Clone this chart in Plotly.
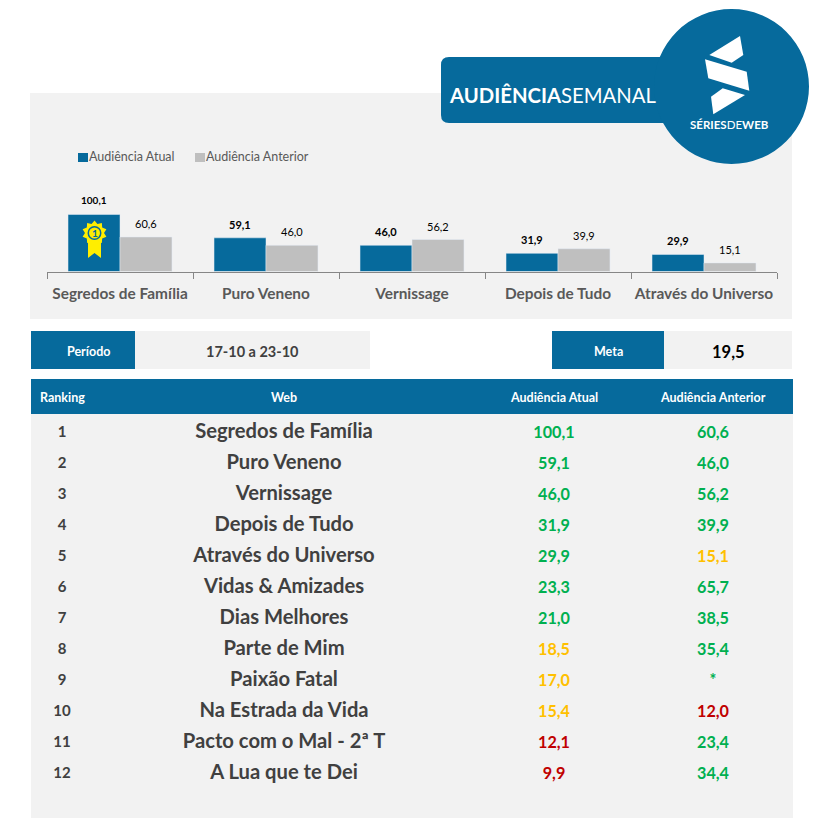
import math
import plotly.graph_objects as go

# a pagina tem 8px de margem no body, entao a figura fica menor e tudo desconta esse deslocamento
PAGE_MARGIN = 8
W, H = 824 - PAGE_MARGIN, 819 - PAGE_MARGIN
BLUE = '#066a9c'
GREY = '#bfbfbf'
PANEL = '#f2f2f2'
DARK = '#404040'
GREEN = '#00b050'
AMBER = '#ffc000'
RED = '#c00000'
FONT = 'Lato'

# grafico
top_names = ['Segredos de Família', 'Puro Veneno', 'Vernissage', 'Depois de Tudo', 'Através do Universo']
top_atual = [100.1, 59.1, 46.0, 31.9, 29.9]
top_anterior = [60.6, 46.0, 56.2, 39.9, 15.1]

# tabela
ranking = [1, 2, 3, 4, 5, 6, 7, 8, 9, 10, 11, 12]
webs = ['Segredos de Família', 'Puro Veneno', 'Vernissage', 'Depois de Tudo', 'Através do Universo',
        'Vidas & Amizades', 'Dias Melhores', 'Parte de Mim', 'Paixão Fatal', 'Na Estrada da Vida',
        'Pacto com o Mal - 2ª T', 'A Lua que te Dei']
atual = ['100,1', '59,1', '46,0', '31,9', '29,9', '23,3', '21,0', '18,5', '17,0', '15,4', '12,1', '9,9']
anterior = ['60,6', '46,0', '56,2', '39,9', '15,1', '65,7', '38,5', '35,4', '*', '12,0', '23,4', '34,4']
atual_cor = [GREEN] * 7 + [AMBER] * 3 + [RED] * 2
anterior_cor = [GREEN, GREEN, GREEN, GREEN, AMBER, GREEN, GREEN, GREEN, GREEN, RED, GREEN, GREEN]
col_x = [62, 284, 554, 713]


def px(x):
    return (x - PAGE_MARGIN) / W


def py(y):
    return 1 - (y - PAGE_MARGIN) / H


def rect(x0, y0, x1, y1, color):
    return dict(type='rect', xref='paper', yref='paper', x0=px(x0), x1=px(x1), y0=py(y0), y1=py(y1),
                fillcolor=color, line_width=0, layer='below')


def poly(points, color, layer='above'):
    path = 'M' + 'L'.join(f'{px(x):.5f},{py(y):.5f}' for x, y in points) + 'Z'
    return dict(type='path', xref='paper', yref='paper', path=path, fillcolor=color, line_width=0, layer=layer)


def txt(x, y, text, size, color=DARK, anchor='center'):
    return dict(xref='paper', yref='paper', x=px(x), y=py(y), text=text, showarrow=False, xanchor=anchor,
                yanchor='middle', font=dict(family=FONT, size=size, color=color))


def br(v):
    return f'{v:.1f}'.replace('.', ',')


fig = go.Figure()
fig.add_trace(go.Bar(name='Audiência Atual', x=top_names, y=top_atual, marker_color=BLUE))
fig.add_trace(go.Bar(name='Audiência Anterior', x=top_names, y=top_anterior, marker_color=GREY))

# linhas da tabela
columns = [
    (col_x[0], ranking, [DARK] * 12, 15, 0.03),
    (col_x[1], webs, [DARK] * 12, 20.2, 0),
    (col_x[2], atual, atual_cor, 16.2, 0.03),
    (col_x[3], anterior, anterior_cor, 16.2, 0.03),
]
for x_pos, labels, colors, size, nudge in columns:
    fig.add_trace(go.Scatter(
        x=[x_pos] * 12, y=[r + nudge for r in ranking], text=[f'<b>{v}</b>' for v in labels], mode='text',
        textposition='middle center', textfont=dict(family=FONT, size=size, color=colors),
        xaxis='x2', yaxis='y2', hoverinfo='skip', cliponaxis=False,
    ))

shapes = [
    rect(30, 93, 792, 319, PANEL),
    rect(31, 331, 135, 369, BLUE),
    rect(135, 331, 370, 369, PANEL),
    rect(552, 331, 664, 369, BLUE),
    rect(664, 331, 792, 369, PANEL),
    rect(31, 379, 793, 414, BLUE),
    rect(31, 414, 793, 818, PANEL),
    # legenda
    rect(78, 153, 88, 162, BLUE),
    rect(195, 153, 205, 162, GREY),
    # selo do titulo
    dict(type='path', xref='paper', yref='paper', line_width=0, fillcolor=BLUE, layer='above',
         path=f'M{px(449)},{py(57)}L{px(700)},{py(57)}L{px(700)},{py(123)}L{px(449)},{py(123)}'
              f'Q{px(441)},{py(123)} {px(441)},{py(115)}L{px(441)},{py(65)}Q{px(441)},{py(57)} {px(449)},{py(57)}Z'),
    dict(type='circle', xref='paper', yref='paper', x0=px(654), x1=px(809), y0=py(164), y1=py(9),
         fillcolor=BLUE, line_width=0, layer='above'),
    poly([(740, 36), (743.3, 55), (731.7, 62.7), (709.3, 55)], 'white'),
    poly([(705, 59.3), (746.7, 71.7), (749.3, 90.7), (708.3, 78.3)], 'white'),
    poly([(722.7, 88.3), (745, 95), (713.3, 114.3), (711, 96.7)], 'white'),
    # medalha
    poly([(88, 240), (101, 240), (101, 258), (94.5, 253), (88, 258)], '#ffee00'),
    poly([(94.5 + (12.5 if k % 2 == 0 else 9.5) * math.sin(k * math.pi / 10),
           233 - (12.5 if k % 2 == 0 else 9.5) * math.cos(k * math.pi / 10)) for k in range(20)], '#ffee00'),
    dict(type='circle', xref='paper', yref='paper', x0=px(87.5), x1=px(101.5), y0=py(240), y1=py(226),
         fillcolor=BLUE, line_width=0, layer='above'),
    dict(type='circle', xref='paper', yref='paper', x0=px(89), x1=px(100), y0=py(238.5), y1=py(227.5),
         fillcolor='#ffee00', line_width=0, layer='above'),
]

annotations = [
    txt(447, 95, '<b>AUDIÊNCIA</b>SEMANAL', 20.3, 'white', 'left'),
    txt(729.5, 125, '<b>SÉRIES</b>DE<b>WEB</b>', 11.5, 'white'),
    txt(94.5, 233, '<b>1</b>', 10, BLUE),
    txt(87, 157, 'Audiência Atual', 12.5, '#595959', 'left'),
    txt(204, 157, 'Audiência Anterior', 12.5, '#595959', 'left'),
    txt(88, 351, '<b>Período</b>', 12.5, 'white'),
    txt(252, 351, '<b>17-10 a 23-10</b>', 14.5),
    txt(608, 351, '<b>Meta</b>', 12.5, 'white'),
    txt(728, 352, '<b>19,5</b>', 16.5, 'black'),
    txt(col_x[0], 397, '<b>Ranking</b>', 12.5, 'white'),
    txt(col_x[1], 397, '<b>Web</b>', 12.5, 'white'),
    txt(col_x[2], 397, '<b>Audiência Atual</b>', 12.5, 'white'),
    txt(col_x[3], 397, '<b>Audiência Anterior</b>', 12.5, 'white'),
]

for i in range(len(top_names)):
    annotations.append(dict(xref='x', yref='y', x=i - 0.178, y=top_atual[i], yshift=7 if i == 0 else 5,
                            text=f'<b>{br(top_atual[i])}</b>', showarrow=False, yanchor='bottom',
                            font=dict(family=FONT, size=10 if i == 0 else 11, color='black')))
    annotations.append(dict(xref='x', yref='y', x=i + 0.178, y=top_anterior[i], yshift=5, text=br(top_anterior[i]),
                            showarrow=False, yanchor='bottom', font=dict(family=FONT, size=11, color='black')))

fig.update_layout(
    width=W, height=H, margin=dict(l=0, r=0, t=0, b=0), paper_bgcolor='white', plot_bgcolor='rgba(0,0,0,0)',
    barmode='group', bargap=0.288, bargroupgap=0, shapes=shapes, annotations=annotations,
    font=dict(family=FONT),
    showlegend=False,
    xaxis=dict(domain=[px(47), px(777)], anchor='y', tickson='boundaries', ticks='outside', ticklen=6, tickwidth=1,
               tickcolor='#868686', linecolor='#868686', linewidth=1, showline=True, showgrid=False,
               tickfont=dict(family=FONT, size=15.4, color='#595959', weight='bold'), tickangle=0,
               ticklabelstandoff=8),
    yaxis=dict(domain=[py(271.5), py(171.5)], range=[0, 175.6], visible=False),
    xaxis2=dict(domain=[px(31), px(793)], range=[31, 793], anchor='y2', visible=False),
    yaxis2=dict(domain=[py(818), py(414)], range=[13.426, 0.394], anchor='x2', visible=False),
)

fig.write_html('out.html')
